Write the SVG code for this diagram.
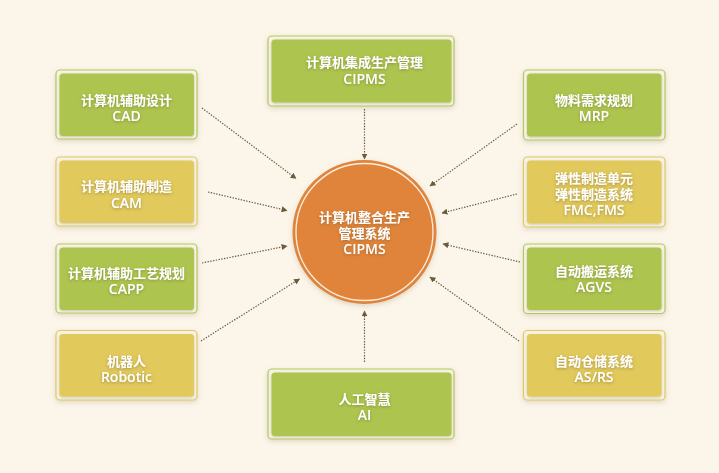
<svg xmlns="http://www.w3.org/2000/svg" width="719" height="473" viewBox="0 0 719 473">
<defs>
<style>
.frame-g{fill:#f6f2e6;stroke:#b3c95c;stroke-width:1.2}
.frame-y{fill:#f6f2e6;stroke:#e0ca5e;stroke-width:1.2}
.in-g{fill:#adc54f}
.in-y{fill:#e1c95b}
.t{font-family:"Open Sans","Noto Sans CJK SC",sans-serif;font-weight:600;fill:#ffffff;text-anchor:middle;filter:url(#ts)}
.cjk{font-size:13px}
.lat{font-size:14px}
.con{fill:none;stroke:#6b5a3c;stroke-width:1.2;stroke-dasharray:1.4 1.4;marker-end:url(#ah)}
</style>
<filter id="bs" x="-10%" y="-15%" width="120%" height="140%">
<feDropShadow dx="0" dy="2" stdDeviation="2.5" flood-color="#8a7a50" flood-opacity="0.25"/>
</filter>
<filter id="is" x="-10%" y="-15%" width="120%" height="140%">
<feDropShadow dx="0" dy="1" stdDeviation="1.2" flood-color="#6a6030" flood-opacity="0.3"/>
</filter>
<filter id="ts" x="-20%" y="-50%" width="140%" height="200%">
<feDropShadow dx="0" dy="1" stdDeviation="1.5" flood-color="#5a5020" flood-opacity="0.45"/>
</filter>
<marker id="ah" viewBox="0 0 10 10" refX="9" refY="5" markerWidth="6" markerHeight="6" markerUnits="userSpaceOnUse" orient="auto">
<path d="M0,0 L10,5 L0,10 z" fill="#6b5a3c"/>
</marker>
</defs>
<rect width="719" height="473" fill="#fcf5ea"/>

<g id="connectors">
<line class="con" x1="202" y1="108" x2="296" y2="178.5"/>
<line class="con" x1="208" y1="192" x2="287" y2="210.5"/>
<line class="con" x1="202" y1="263" x2="287" y2="246"/>
<line class="con" x1="201" y1="341" x2="299.5" y2="279"/>
<line class="con" x1="364.5" y1="109" x2="364.5" y2="159"/>
<line class="con" x1="364.5" y1="362" x2="364.5" y2="311"/>
<line class="con" x1="517" y1="124" x2="430" y2="186"/>
<line class="con" x1="517" y1="194" x2="442" y2="213"/>
<line class="con" x1="520" y1="262" x2="443" y2="244"/>
<line class="con" x1="519" y1="341" x2="430" y2="277"/>
</g>

<g id="center">
<circle cx="364.5" cy="232" r="72" fill="#e0843b" filter="url(#bs)"/>
<circle cx="364.5" cy="232" r="68.5" fill="none" stroke="#fbeee0" stroke-width="1.3"/>
<text class="t cjk" x="364.5" y="222">计算机整合生产</text>
<text class="t cjk" x="364.5" y="238">管理系统</text>
<text class="t lat" x="364.5" y="253.5">CIPMS</text>
</g>

<g id="cad">
<rect class="frame-g" x="56" y="70" width="141" height="69" rx="4" filter="url(#bs)"/>
<rect class="in-g" x="59.5" y="73.5" width="134.5" height="62.5" rx="3.5" filter="url(#is)"/>
<text class="t cjk" x="126.5" y="105">计算机辅助设计</text>
<text class="t lat" x="126.5" y="121">CAD</text>
</g>

<g id="cam">
<rect class="frame-y" x="56" y="157" width="141" height="69" rx="4" filter="url(#bs)"/>
<rect class="in-y" x="59.5" y="160.5" width="134.5" height="62.5" rx="3.5" filter="url(#is)"/>
<text class="t cjk" x="126.5" y="191">计算机辅助制造</text>
<text class="t lat" x="126.5" y="208">CAM</text>
</g>

<g id="capp">
<rect class="frame-g" x="56" y="244" width="141" height="69" rx="4" filter="url(#bs)"/>
<rect class="in-g" x="59.5" y="247.5" width="134.5" height="62.5" rx="3.5" filter="url(#is)"/>
<text class="t cjk" x="126.5" y="278">计算机辅助工艺规划</text>
<text class="t lat" x="126.5" y="294">CAPP</text>
</g>

<g id="robotic">
<rect class="frame-y" x="56" y="330.5" width="141" height="69.5" rx="4" filter="url(#bs)"/>
<rect class="in-y" x="59.5" y="334" width="134.5" height="62.5" rx="3.5" filter="url(#is)"/>
<text class="t cjk" x="126.5" y="365.5">机器人</text>
<text class="t lat" x="126.5" y="381.5">Robotic</text>
</g>

<g id="cipms-top">
<rect class="frame-g" x="268" y="36" width="186" height="70" rx="4" filter="url(#bs)"/>
<rect class="in-g" x="271.5" y="39.5" width="180" height="63" rx="3.5" filter="url(#is)"/>
<text class="t cjk" x="364.5" y="67">计算机集成生产管理</text>
<text class="t lat" x="364.5" y="84">CIPMS</text>
</g>

<g id="ai">
<rect class="frame-g" x="268" y="369" width="186" height="70" rx="4" filter="url(#bs)"/>
<rect class="in-g" x="271.5" y="372.5" width="180" height="63.5" rx="3.5" filter="url(#is)"/>
<text class="t cjk" x="364.5" y="404">人工智慧</text>
<text class="t lat" x="364.5" y="420">AI</text>
</g>

<g id="mrp">
<rect class="frame-g" x="523.5" y="70" width="141.5" height="70" rx="4" filter="url(#bs)"/>
<rect class="in-g" x="527" y="73.5" width="134.5" height="63" rx="3.5" filter="url(#is)"/>
<text class="t cjk" x="594" y="104.5">物料需求规划</text>
<text class="t lat" x="594" y="121">MRP</text>
</g>

<g id="fmc">
<rect class="frame-y" x="523.5" y="157" width="141.5" height="70" rx="4" filter="url(#bs)"/>
<rect class="in-y" x="527" y="160.5" width="134.5" height="63" rx="3.5" filter="url(#is)"/>
<text class="t cjk" x="594" y="183">弹性制造单元</text>
<text class="t cjk" x="594" y="199">弹性制造系统</text>
<text class="t lat" x="594" y="215">FMC,FMS</text>
</g>

<g id="agvs">
<rect class="frame-g" x="523.5" y="244" width="141.5" height="69.5" rx="4" filter="url(#bs)"/>
<rect class="in-g" x="527" y="247.5" width="134.5" height="62.5" rx="3.5" filter="url(#is)"/>
<text class="t cjk" x="594" y="276">自动搬运系统</text>
<text class="t lat" x="594" y="292">AGVS</text>
</g>

<g id="asrs">
<rect class="frame-y" x="523.5" y="330.5" width="141.5" height="69.5" rx="4" filter="url(#bs)"/>
<rect class="in-y" x="527" y="334" width="134.5" height="62.5" rx="3.5" filter="url(#is)"/>
<text class="t cjk" x="594" y="365.5">自动仓储系统</text>
<text class="t lat" x="594" y="381.5">AS/RS</text>
</g>
</svg>
